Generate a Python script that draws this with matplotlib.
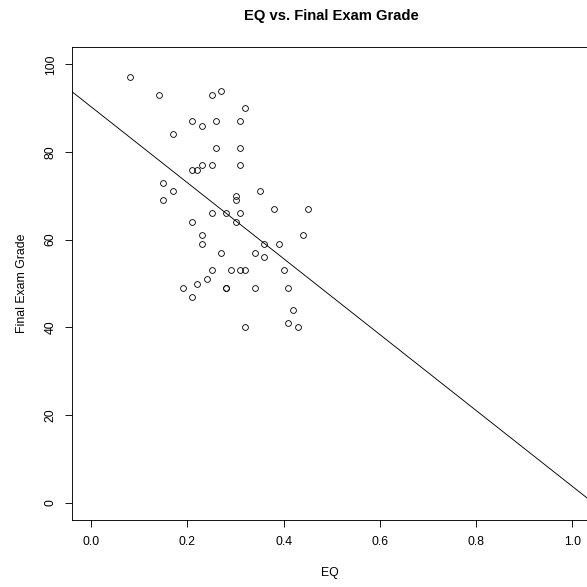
import numpy as np
import matplotlib
matplotlib.use("Agg")
import matplotlib.pyplot as plt

# EQ score and final exam grade for each student
eq = [0.08, 0.14, 0.25, 0.27, 0.32, 0.21, 0.23, 0.26, 0.31, 0.17,
      0.26, 0.31, 0.21, 0.22, 0.23, 0.25, 0.31, 0.15, 0.17, 0.15,
      0.30, 0.30, 0.35, 0.38, 0.45, 0.25, 0.28, 0.31, 0.21, 0.30,
      0.44, 0.23, 0.23, 0.36, 0.39, 0.27, 0.34, 0.36, 0.25, 0.29,
      0.31, 0.32, 0.40, 0.24, 0.22, 0.19, 0.28, 0.28, 0.34, 0.41,
      0.42, 0.41, 0.43, 0.32, 0.21]
final_grade = [97, 93, 93, 94, 90, 87, 86, 87, 87, 84,
               81, 81, 76, 76, 77, 77, 77, 73, 71, 69,
               70, 69, 71, 67, 67, 66, 66, 66, 64, 64,
               61, 61, 59, 59, 59, 57, 57, 56, 53, 53,
               53, 53, 53, 51, 50, 49, 49, 49, 49, 49,
               44, 41, 40, 40, 47]

x_ticks = [0.0, 0.2, 0.4, 0.6, 0.8, 1.0]
x_tick_labels = ["0.0", "0.2", "0.4", "0.6", "0.8", "1.0"]
y_ticks = [0, 20, 40, 60, 80, 100]
y_tick_labels = ["0", "20", "40", "60", "80", "100"]

plt.rcParams["font.family"] = ["Liberation Sans", "DejaVu Sans"]

W = H = 587
DPI = 72
fig = plt.figure(figsize=(W / DPI, H / DPI), dpi=DPI)
fig.patch.set_facecolor("white")

# plot region (pixels): left 72, right 591.5, top 46.8, bottom 520.2
ax = fig.add_axes([72.06 / W, 1 - 520.2 / H, 519.44 / W, 473.4 / H])

ax.plot(eq, final_grade, linestyle="none", marker="o", markersize=5.8,
        markerfacecolor="none", markeredgecolor="black", markeredgewidth=0.85)

# least-squares regression line across the full plot width
slope, intercept = np.polyfit(eq, final_grade, 1)
ax.axline((0, intercept), slope=slope, color="black", linewidth=0.9)

ax.set_xlim(-0.04, 1.04)
ax.set_ylim(-4, 104)

ax.set_xticks(x_ticks)
ax.set_xticklabels(x_tick_labels)
ax.set_yticks(y_ticks)
ax.set_yticklabels(y_tick_labels)

ax.tick_params(axis="both", direction="out", length=7.2, width=0.9,
               color="black", labelsize=12.3, labelcolor="black")
ax.tick_params(axis="x", pad=9)
ax.tick_params(axis="y", pad=8, labelrotation=90)
for lab in ax.get_yticklabels():
    lab.set_va("center")

for sp in ax.spines.values():
    sp.set_linewidth(0.9)
    sp.set_color("black")

ax.set_xlabel("EQ", fontsize=12.3)
ax.xaxis.set_label_coords(0.4966, -0.1122)
ax.xaxis.label.set_va("center")
ax.set_ylabel("Final Exam Grade", fontsize=12.3)
ax.yaxis.set_label_coords(-0.097, 0.5)
ax.yaxis.label.set_va("center")
ax.yaxis.label.set_ha("center")

fig.text(331.8 / W, 1 - 15.7 / H, "EQ vs. Final Exam Grade",
         fontsize=14.8, fontweight="bold", ha="center", va="center")

fig.savefig("out.png", dpi=DPI, facecolor="white")
